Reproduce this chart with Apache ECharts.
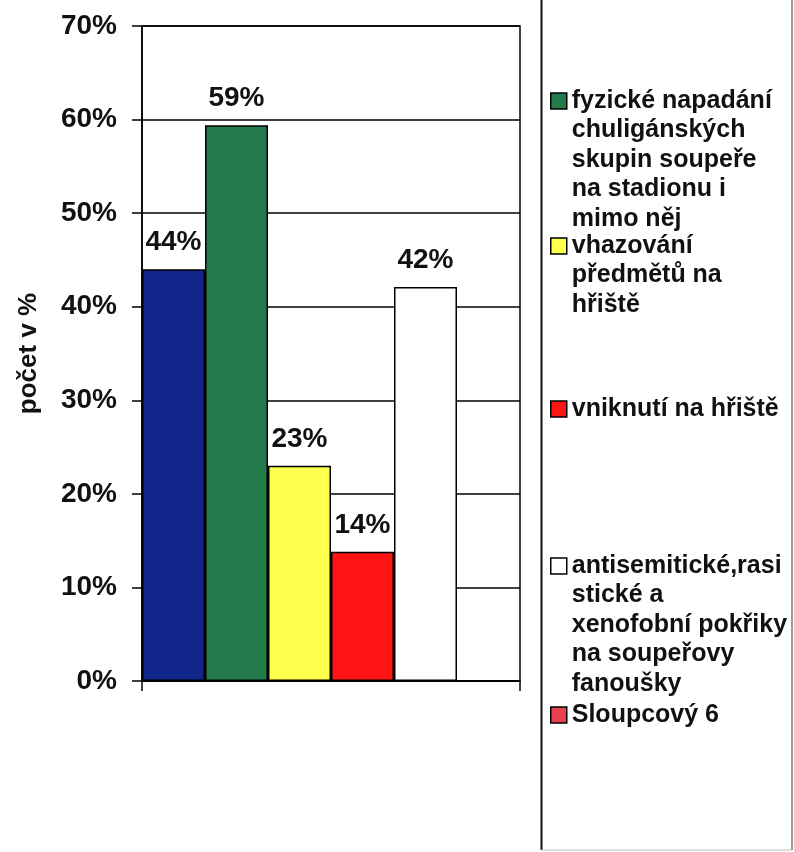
<!DOCTYPE html>
<html>
<head>
<meta charset="utf-8">
<script src="https://cdn.jsdelivr.net/npm/echarts@6/dist/echarts.min.js"></script>
<style>
  html, body { margin: 0; padding: 0; background: #fff; }
  #chart { width: 794px; height: 852px; }
</style>
</head>
<body>
<div id="chart"></div>
<script>
// data
var categories = [''];
var seriesNames = [
  'Sloupcový 1',
  'fyzické napadání chuligánských skupin soupeře na stadionu i mimo něj',
  'vhazování předmětů na hřiště',
  'vniknutí na hřiště',
  'antisemitické,rasistické a xenofobní pokřiky na soupeřovy fanoušky',
  'Sloupcový 6'
];
var seriesValues = [44, 59.4, 23, 13.8, 42.1, 0];
var seriesColors = ['#11278c', '#237a4a', '#ffff4d', '#ff1414', '#ffffff', '#e8404c'];
var yTicks = [0, 10, 20, 30, 40, 50, 60, 70];

// legend text broken into lines like the original
var legendLines = {};
legendLines[seriesNames[1]] = ['fyzické napadání', 'chuligánských', 'skupin soupeře', 'na stadionu i', 'mimo něj'];
legendLines[seriesNames[2]] = ['vhazování', 'předmětů na', 'hřiště'];
legendLines[seriesNames[3]] = ['vniknutí na hřiště'];
legendLines[seriesNames[4]] = ['antisemitické,rasi', 'stické a', 'xenofobní pokřiky', 'na soupeřovy', 'fanoušky'];
legendLines[seriesNames[5]] = ['Sloupcový 6'];
var legendIconY = [101, 246, 409, 566, 715];

var font = '"Liberation Sans", Arial, sans-serif';
var lh = 29.5;

// the icon sits on the middle of the text block, so blank lines are put
// in front to bring the first real line level with the icon
var legends = [];
for (var i = 1; i < seriesNames.length; i++) {
  var n = legendLines[seriesNames[i]].length;
  legends.push({
    data: [seriesNames[i]],
    left: 550,
    top: legendIconY[i - 1] - (2 * n - 1) * lh / 2,
    padding: 0,
    itemWidth: 16,
    itemHeight: 16,
    icon: 'rect',
    selectedMode: false,
    itemStyle: { borderColor: '#000', borderWidth: 1.5 },
    formatter: function (name) {
      var lines = legendLines[name];
      var pad = [];
      for (var k = 1; k < lines.length; k++) pad.push(' ');
      return pad.concat(lines).join('\n');
    },
    textStyle: {
      fontFamily: font,
      fontWeight: 'bold',
      fontSize: 25,
      color: '#111',
      lineHeight: lh
    }
  });
}

var series = seriesNames.map(function (name, i) {
  return {
    name: name,
    type: 'bar',
    data: [seriesValues[i]],
    barGap: 0,
    barCategoryGap: 0,
    itemStyle: { color: seriesColors[i], borderColor: '#000', borderWidth: 1.5 },
    label: {
      show: seriesValues[i] > 0,
      position: 'top',
      distance: 13,
      fontFamily: font,
      fontWeight: 'bold',
      fontSize: 28,
      color: '#111',
      formatter: function (p) { return Math.round(p.value) + '%'; }
    }
  };
});

var myChart = echarts.init(document.getElementById('chart'), null, { renderer: 'canvas' });
myChart.setOption({
  animation: false,
  backgroundColor: '#fff',
  grid: {
    left: 142, right: 274, top: 26, bottom: 171,
    show: true, borderColor: '#000', borderWidth: 1.5
  },
  legend: legends,
  xAxis: {
    type: 'category',
    data: categories,
    axisLine: { lineStyle: { color: '#000', width: 1.5 } },
    axisTick: { show: true, length: 10, lineStyle: { color: '#000', width: 1.5 } },
    axisLabel: { show: false }
  },
  yAxis: {
    type: 'value',
    min: yTicks[0],
    max: yTicks[yTicks.length - 1],
    interval: 10,
    name: 'počet v %',
    nameLocation: 'middle',
    nameGap: 100,
    nameTextStyle: { fontFamily: font, fontWeight: 'bold', fontSize: 26, color: '#111' },
    axisLine: { show: true, lineStyle: { color: '#000', width: 1.5 } },
    axisTick: { show: true, length: 10, lineStyle: { color: '#000', width: 1.5 } },
    axisLabel: {
      margin: 25,
      fontFamily: font, fontWeight: 'bold', fontSize: 28, color: '#111',
      formatter: '{value}%'
    },
    splitLine: { lineStyle: { color: '#000', width: 1.5 } }
  },
  series: series,
  graphic: [
    // frame round the legend panel
    { type: 'line', shape: { x1: 541.5, y1: 0, x2: 541.5, y2: 850 }, style: { stroke: '#111', lineWidth: 2 } },
    { type: 'line', shape: { x1: 792, y1: 0, x2: 792, y2: 850 }, style: { stroke: '#777', lineWidth: 1.5 } },
    { type: 'line', shape: { x1: 541.5, y1: 850, x2: 792, y2: 850 }, style: { stroke: '#bbb', lineWidth: 1 } }
  ]
});
</script>
</body>
</html>
